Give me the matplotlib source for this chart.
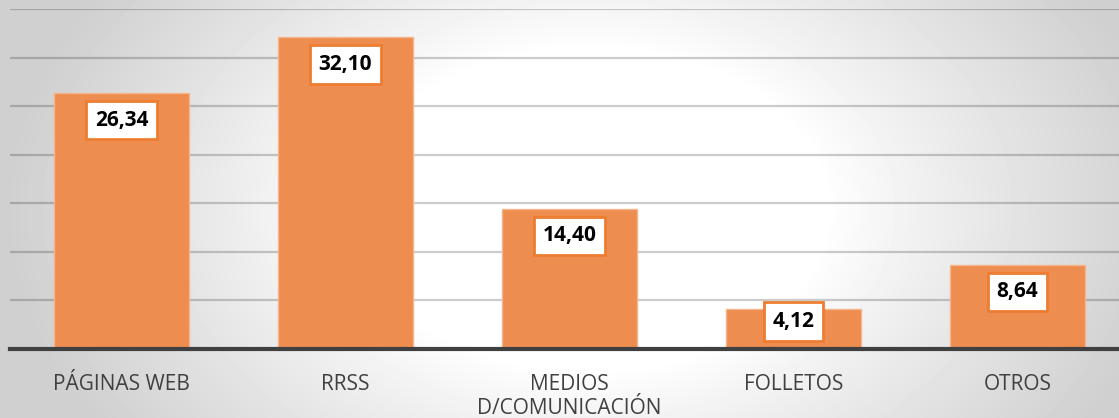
import numpy as np
import matplotlib.pyplot as plt

# ---------- Data ----------
categories = ["PÁGINAS WEB", "RRSS", "MEDIOS\nD/COMUNICACIÓN", "FOLLETOS", "OTROS"]
values = [26.34, 32.10, 14.40, 4.12, 8.64]
value_labels = ["26,34", "32,10", "14,40", "4,12", "8,64"]

# ---------- Figure ----------
W, H = 1119, 418
fig = plt.figure(figsize=(W / 100, H / 100), dpi=100)

# radial grey -> white background (mostly horizontal falloff)
bg = fig.add_axes([0, 0, 1, 1], zorder=-10)
yy, xx = np.mgrid[0:H, 0:W]
dx = (xx - 590) / 560
dy = (yy - 209) / 209
r = np.sqrt(dx ** 2 + 0.3 * dy ** 2)
t = np.clip((r - 0.42) / 0.62, 0, 1)
shade = 1.0 - 0.185 * t ** 0.9
bg.imshow(shade, cmap="gray", vmin=0, vmax=1, aspect="auto",
          extent=[0, 1, 0, 1], interpolation="bilinear")
bg.axis("off")

# axes placed so that category spacing matches the original
left_px, right_px = 9.5, 1129.5
bottom_px, top_px = 348.5, 9.0
ax = fig.add_axes([left_px / W, (H - bottom_px) / H,
                   (right_px - left_px) / W, (bottom_px - top_px) / H])
ax.patch.set_alpha(0)

x = np.arange(len(categories))
ax.bar(x, values, width=0.6, color="#ED8D4F", edgecolor="#F6B58A",
       linewidth=1, zorder=3)

ax.set_xlim(-0.5, len(categories) - 0.5)
ax.set_ylim(0, 35)
ax.set_yticks(np.arange(5, 36, 5))
ax.yaxis.grid(True, color="black", alpha=0.2, linewidth=1.6, zorder=0)
ax.tick_params(axis="y", left=False, labelleft=False)

for s in ["top", "right", "left"]:
    ax.spines[s].set_visible(False)
ax.spines["bottom"].set_color("#404040")
ax.spines["bottom"].set_linewidth(3)
ax.spines["bottom"].set_zorder(5)

ax.set_xticks(x)
ax.set_xticklabels(categories, fontsize=15, color="#404040",
                   family="Open Sans", linespacing=1.2)
ax.tick_params(axis="x", length=0, pad=18)

# value labels in white boxes with orange border
for xi, v, lab in zip(x, values, value_labels):
    yc = v - 2.8 if v > 8 else v - 1.35
    ax.text(xi, yc, lab, ha="center", va="center", fontsize=15,
            fontweight="bold", family="Open Sans", color="black", zorder=6,
            bbox=dict(boxstyle="square,pad=0.42", facecolor="white",
                      edgecolor="#ED7D31", linewidth=2))

fig.savefig("out.png", dpi=100)
